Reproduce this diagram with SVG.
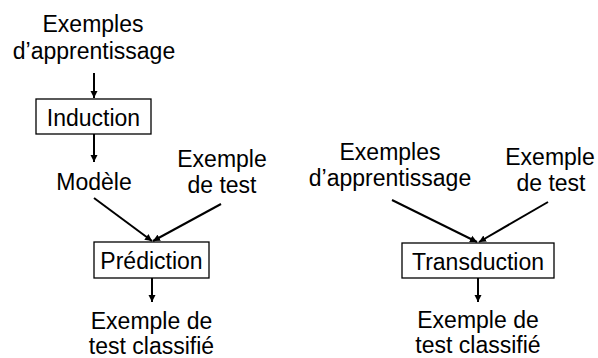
<svg xmlns="http://www.w3.org/2000/svg" width="598" height="358" viewBox="0 0 598 358">
<defs>
<marker id="ah" viewBox="0 0 10 10" refX="10" refY="5" markerWidth="7" markerHeight="8" markerUnits="userSpaceOnUse" orient="auto">
<path d="M0,0 L10,5 L0,10 Z" fill="#000"/>
</marker>
<style>
text{font-family:"Liberation Sans",Arial,sans-serif;font-size:23px;fill:#000;text-anchor:middle}
.box{fill:#fff;stroke:#000;stroke-width:1.3}
.c{stroke:#000;stroke-width:2;fill:none;marker-end:url(#ah)}
</style>
</defs>
<rect width="598" height="358" fill="#fff"/>
<g id="connectors">
<line class="c" x1="94" y1="73" x2="94" y2="98"/>
<line class="c" x1="94" y1="134" x2="94" y2="162"/>
<line class="c" x1="94" y1="198" x2="152" y2="241"/>
<line class="c" x1="221" y1="204" x2="153" y2="241"/>
<line class="c" x1="152" y1="278" x2="152" y2="302"/>
<line class="c" x1="392" y1="200" x2="477" y2="242"/>
<line class="c" x1="548" y1="202" x2="479" y2="242"/>
<line class="c" x1="478" y1="278" x2="478" y2="302"/>
</g>
<g id="train-left"><text x="93" y="32">Exemples</text><text x="94" y="59">d’apprentissage</text></g>
<g id="induction"><rect class="box" x="36" y="99" width="115" height="35"/><text x="93.5" y="126">Induction</text></g>
<g id="modele"><text x="94" y="190">Modèle</text></g>
<g id="test-left"><text x="222" y="167">Exemple</text><text x="222" y="193">de test</text></g>
<g id="prediction"><rect class="box" x="94" y="242" width="115" height="36"/><text x="151.5" y="269">Prédiction</text></g>
<g id="out-left"><text x="151.5" y="329">Exemple de</text><text x="151.5" y="354">test classifié</text></g>
<g id="train-right"><text x="390" y="160">Exemples</text><text x="390" y="186">d’apprentissage</text></g>
<g id="test-right"><text x="550" y="165">Exemple</text><text x="551" y="191">de test</text></g>
<g id="transduction"><rect class="box" x="402" y="243" width="152" height="35"/><text x="478" y="270">Transduction</text></g>
<g id="out-right"><text x="478" y="328">Exemple de</text><text x="478" y="353">test classifié</text></g>
</svg>
